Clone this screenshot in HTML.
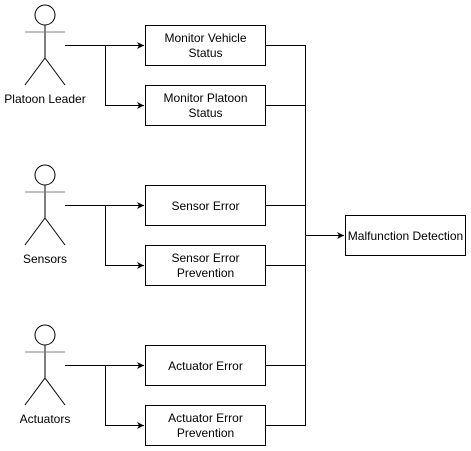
<!DOCTYPE html>
<html><head><meta charset="utf-8"><style>
html,body{margin:0;padding:0;background:#fff;}
svg{display:block;}
text{font-family:"Liberation Sans",Arial,sans-serif;font-size:12px;fill:#000;}
</style></head><body>
<svg width="471" height="451" viewBox="0 0 471 451" xmlns="http://www.w3.org/2000/svg">
<defs>
<marker id="a" markerWidth="8" markerHeight="8" refX="7" refY="4" orient="auto" markerUnits="userSpaceOnUse">
<path d="M0,0.5 L7,4 L0,7.5 L2,4 Z" fill="#000"/>
</marker>
</defs>
<g fill="none" stroke="#000" stroke-width="1">
<g id="act">
<circle cx="45" cy="15" r="10" fill="#fff"/>
<line x1="45" y1="25" x2="45" y2="58"/>
<line x1="25" y1="32" x2="65" y2="32" stroke="#808080"/>
<line x1="45" y1="58" x2="25" y2="85"/>
<line x1="45" y1="58" x2="65" y2="85"/>
</g>
<use href="#act" y="160"/>
<use href="#act" y="320"/>
<rect x="145.5" y="25.5" width="120" height="40" fill="#fff"/>
<rect x="145.5" y="85.5" width="120" height="40" fill="#fff"/>
<rect x="145.5" y="185.5" width="120" height="40" fill="#fff"/>
<rect x="145.5" y="245.5" width="120" height="40" fill="#fff"/>
<rect x="145.5" y="345.5" width="120" height="40" fill="#fff"/>
<rect x="145.5" y="405.5" width="120" height="40" fill="#fff"/>
<rect x="345.5" y="215.5" width="120" height="40" fill="#fff"/>
<path d="M65 45.5 H144" marker-end="url(#a)"/>
<path d="M105.5 45.5 V105.5 H144" marker-end="url(#a)"/>
<path d="M65 205.5 H144" marker-end="url(#a)"/>
<path d="M105.5 205.5 V265.5 H144" marker-end="url(#a)"/>
<path d="M65 365.5 H144" marker-end="url(#a)"/>
<path d="M105.5 365.5 V425.5 H144" marker-end="url(#a)"/>
<path d="M265.5 45.5 H305.5 V425.5 H265.5"/>
<path d="M265.5 105.5 H305.5"/>
<path d="M265.5 205.5 H305.5"/>
<path d="M265.5 265.5 H305.5"/>
<path d="M265.5 365.5 H305.5"/>
<path d="M305.5 235.5 H344" marker-end="url(#a)"/>
</g>
<g text-anchor="middle">
<text x="45" y="103">Platoon Leader</text>
<text x="45" y="263">Sensors</text>
<text x="45" y="423">Actuators</text>
<text x="205.5" y="42">Monitor Vehicle</text>
<text x="205.5" y="57">Status</text>
<text x="205.5" y="102">Monitor Platoon</text>
<text x="205.5" y="117">Status</text>
<text x="205.5" y="210">Sensor Error</text>
<text x="205.5" y="262">Sensor Error</text>
<text x="205.5" y="277">Prevention</text>
<text x="205.5" y="370">Actuator Error</text>
<text x="205.5" y="422">Actuator Error</text>
<text x="205.5" y="437">Prevention</text>
<text x="405.5" y="240">Malfunction Detection</text>
</g>
</svg>
</body></html>
